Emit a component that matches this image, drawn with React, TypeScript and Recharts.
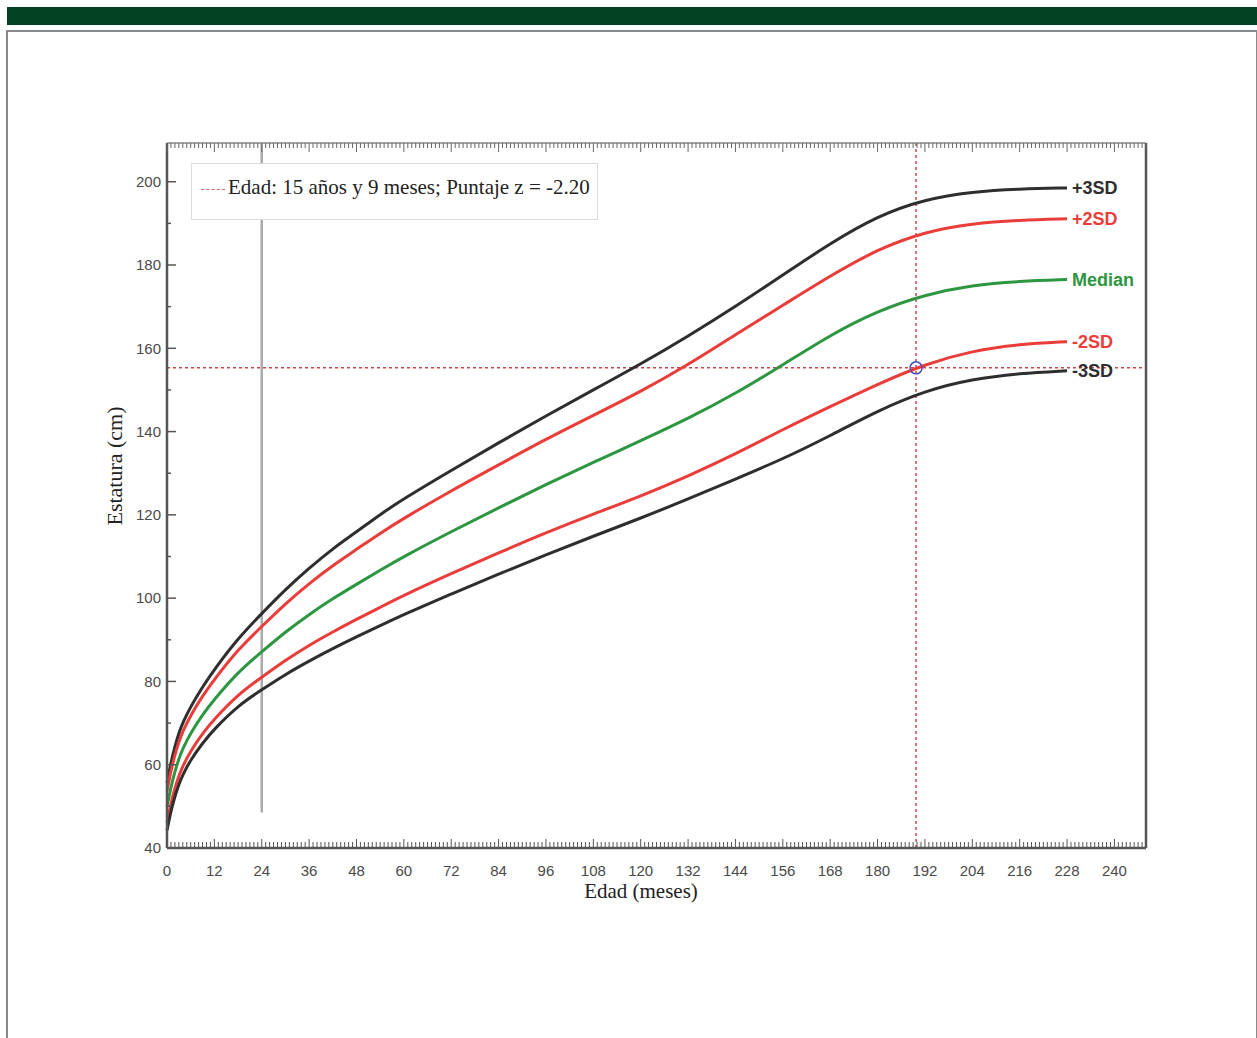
import { LineChart, Line, XAxis, YAxis, ReferenceLine, ReferenceDot } from 'recharts';

// edad en meses
const months = [0, 1, 2, 3, 4, 6, 9, 12, 18, 24, 30, 36, 42, 48, 54, 60, 72, 84, 96, 108, 120, 132, 144, 156, 168, 180, 192, 204, 216, 228];

const sdPlus3 = [55.6, 60.6, 64.4, 67.6, 70.1, 74.0, 78.7, 82.9, 90.4, 96.3, 102.1, 107.2, 111.9, 115.9, 120.1, 123.9, 130.7, 137.3, 143.8, 150.0, 156.2, 162.9, 170.0, 177.6, 185.2, 191.8, 195.8, 197.6, 198.3, 198.5];
const sdPlus2 = [53.7, 58.6, 62.4, 65.5, 68.0, 71.9, 76.5, 80.5, 87.7, 93.2, 98.7, 103.5, 107.9, 111.7, 115.6, 119.2, 125.8, 132.0, 138.2, 143.9, 149.6, 156.0, 163.3, 170.3, 177.4, 183.8, 188.0, 190.0, 190.8, 191.1];
const median = [49.9, 54.7, 58.4, 61.4, 63.9, 67.6, 72.0, 75.7, 82.3, 87.1, 91.9, 96.1, 99.9, 103.3, 106.7, 110.0, 116.0, 121.7, 127.3, 132.6, 137.8, 143.1, 149.1, 156.0, 163.2, 169.0, 172.9, 175.2, 176.1, 176.5];
const sdMinus2 = [46.1, 50.8, 54.4, 57.3, 59.7, 63.3, 67.5, 71.0, 76.9, 81.0, 85.1, 88.7, 91.9, 94.9, 97.8, 100.7, 105.9, 110.9, 115.7, 120.2, 124.5, 129.3, 134.6, 140.5, 146.0, 151.4, 156.2, 159.4, 161.0, 161.6];
const sdMinus3 = [44.2, 48.9, 52.4, 55.3, 57.6, 61.2, 65.2, 68.6, 74.2, 78.0, 81.7, 84.9, 87.9, 90.7, 93.4, 96.1, 101.0, 105.8, 110.4, 114.9, 119.2, 123.8, 128.6, 133.4, 139.0, 145.0, 149.8, 152.6, 154.0, 154.6];

const xLabels = [0, 12, 24, 36, 48, 60, 72, 84, 96, 108, 120, 132, 144, 156, 168, 180, 192, 204, 216, 228, 240];
const yLabels = [40, 60, 80, 100, 120, 140, 160, 180, 200];

const patientAge = 189.75;
const patientHeight = 155.3;

const data = months.map((m, i) => ({
  m,
  p3: sdPlus3[i],
  p2: sdPlus2[i],
  med: median[i],
  m2: sdMinus2[i],
  m3: sdMinus3[i],
}));

const xTicks = Array.from({ length: 249 }, (_, i) => i);
const yTicks = Array.from({ length: 17 }, (_, i) => 40 + i * 10);

const BLACK = '#2e2e2e';
const RED = '#ea3d3a';
const GREEN = '#2c9640';
const AXIS = '#555';
const TICK_FONT = 'Liberation Sans, Arial, sans-serif';

const BottomTick = ({ x, y, payload }: any) => {
  const v = payload.value;
  const major = v % 12 === 0;
  return (
    <g>
      <line x1={x} x2={x} y1={y} y2={y - (major ? 9 : 6)} stroke="#555" strokeWidth={1} />
      {major && xLabels.includes(v) && (
        <text x={x} y={y + 28} textAnchor="middle" fontSize={15} fill="#4a4a4a" fontFamily={TICK_FONT}>
          {v}
        </text>
      )}
    </g>
  );
};

const TopTick = ({ x, y, payload }: any) => {
  const major = payload.value % 12 === 0;
  return <line x1={x} x2={x} y1={y} y2={y + (major ? 9 : 5)} stroke="#666" strokeWidth={1} />;
};

const LeftTick = ({ x, y, payload }: any) => {
  const v = payload.value;
  const major = yLabels.includes(v);
  return (
    <g>
      <line x1={x} x2={x + (major ? 9 : 4)} y1={y} y2={y} stroke={AXIS} strokeWidth={1.5} />
      {major && (
        <text x={x - 6} y={y} dy="0.35em" textAnchor="end" fontSize={15} fill="#4a4a4a" fontFamily={TICK_FONT}>
          {v}
        </text>
      )}
    </g>
  );
};

const RightTick = ({ x, y, payload }: any) => {
  const major = yLabels.includes(payload.value);
  return <line x1={x} x2={x - (major ? 10 : 4)} y1={y} y2={y} stroke={AXIS} strokeWidth={1.5} />;
};

const endLabel = (text: string, color: string) => (props: any) => {
  const { x, y, index } = props;
  if (index !== months.length - 1) return null;
  return (
    <text x={x + 5} y={y} dy="0.35em" fontSize={18} fontWeight="bold" fill={color} fontFamily={TICK_FONT}>
      {text}
    </text>
  );
};

export default function App() {
  return (
    <div style={{ position: 'absolute', left: 0, top: 0, width: 1257, height: 1038, background: '#fff', overflow: 'hidden' }}>
      <div style={{ position: 'absolute', left: 7, top: 7, width: 1250, height: 18, background: '#034222' }} />
      <div style={{ position: 'absolute', left: 6, top: 30, width: 1248, height: 1020, border: '2px solid #8a8a8a', borderBottom: 'none' }} />

      <div style={{ position: 'absolute', left: 0, top: 0 }}>
        <LineChart width={1257} height={1038} data={data} margin={{ top: 142, right: 110, bottom: 150, left: 107 }}>
          <XAxis
            xAxisId="b"
            dataKey="m"
            type="number"
            domain={[0, 248]}
            ticks={xTicks}
            interval={0}
            tickSize={0}
            tickMargin={0}
            tickLine={false}
            height={40}
            axisLine={{ stroke: AXIS, strokeWidth: 2.5 }}
            tick={<BottomTick />}
          />
          <XAxis
            xAxisId="t"
            orientation="top"
            dataKey="m"
            type="number"
            domain={[0, 248]}
            ticks={xTicks}
            interval={0}
            tickSize={0}
            tickMargin={0}
            tickLine={false}
            height={1}
            axisLine={{ stroke: '#888', strokeWidth: 1.5 }}
            tick={<TopTick />}
          />
          <YAxis
            yAxisId="l"
            type="number"
            domain={[40, 209.3]}
            ticks={yTicks}
            interval={0}
            tickSize={0}
            tickMargin={0}
            tickLine={false}
            width={60}
            axisLine={{ stroke: AXIS, strokeWidth: 2.5 }}
            tick={<LeftTick />}
          />
          <YAxis
            yAxisId="r"
            orientation="right"
            type="number"
            domain={[40, 209.3]}
            ticks={yTicks}
            interval={0}
            tickSize={0}
            tickMargin={0}
            tickLine={false}
            width={1}
            axisLine={{ stroke: AXIS, strokeWidth: 2.5 }}
            tick={<RightTick />}
          />

          <ReferenceLine
            xAxisId="b"
            yAxisId="l"
            segment={[{ x: 24, y: 48.5 }, { x: 24, y: 209.3 }]}
            stroke="#aaa"
            strokeWidth={2.5}
          />
          <ReferenceLine xAxisId="b" yAxisId="l" y={patientHeight} stroke="#c8474a" strokeWidth={1.5} strokeDasharray="3 3" />
          <ReferenceLine xAxisId="b" yAxisId="l" x={patientAge} stroke="#c8474a" strokeWidth={1.5} strokeDasharray="3 3" />

          <Line xAxisId="b" yAxisId="l" type="basis" dataKey="p3" stroke={BLACK} strokeWidth={3} dot={false} isAnimationActive={false} label={endLabel('+3SD', BLACK)} />
          <Line xAxisId="b" yAxisId="l" type="basis" dataKey="p2" stroke={RED} strokeWidth={3} dot={false} isAnimationActive={false} label={endLabel('+2SD', RED)} />
          <Line xAxisId="b" yAxisId="l" type="basis" dataKey="med" stroke={GREEN} strokeWidth={3} dot={false} isAnimationActive={false} label={endLabel('Median', GREEN)} />
          <Line xAxisId="b" yAxisId="l" type="basis" dataKey="m2" stroke={RED} strokeWidth={3} dot={false} isAnimationActive={false} label={endLabel('-2SD', RED)} />
          <Line xAxisId="b" yAxisId="l" type="basis" dataKey="m3" stroke={BLACK} strokeWidth={3} dot={false} isAnimationActive={false} label={endLabel('-3SD', BLACK)} />

          <ReferenceDot xAxisId="b" yAxisId="l" x={patientAge} y={patientHeight} r={6} fill="none" stroke="#4b4db5" strokeWidth={1.5} />
        </LineChart>
      </div>

      <div
        style={{
          position: 'absolute',
          left: 191,
          top: 163,
          width: 407,
          height: 57,
          background: '#fff',
          border: '1px solid #dcdcdc',
          boxSizing: 'border-box',
        }}
      >
        <div style={{ position: 'absolute', left: 9, top: 25, width: 24, borderTop: '1.5px dashed #d46a6a' }} />
        <div
          style={{
            position: 'absolute',
            left: 36,
            top: 11,
            fontFamily: '"Liberation Serif", "Times New Roman", serif',
            fontSize: 21,
            color: '#222',
            whiteSpace: 'nowrap',
          }}
        >
          Edad: 15 años y 9 meses; Puntaje z = -2.20
        </div>
      </div>

      <div
        style={{
          position: 'absolute',
          left: 541,
          top: 881,
          width: 200,
          textAlign: 'center',
          fontFamily: '"Liberation Serif", "Times New Roman", serif',
          fontSize: 21,
          lineHeight: '21px',
          color: '#222',
        }}
      >
        Edad (meses)
      </div>
      <div
        style={{
          position: 'absolute',
          left: 15,
          top: 453,
          width: 200,
          textAlign: 'center',
          transform: 'rotate(-90deg)',
          fontFamily: '"Liberation Serif", "Times New Roman", serif',
          fontSize: 22,
          color: '#222',
        }}
      >
        Estatura (cm)
      </div>
    </div>
  );
}
